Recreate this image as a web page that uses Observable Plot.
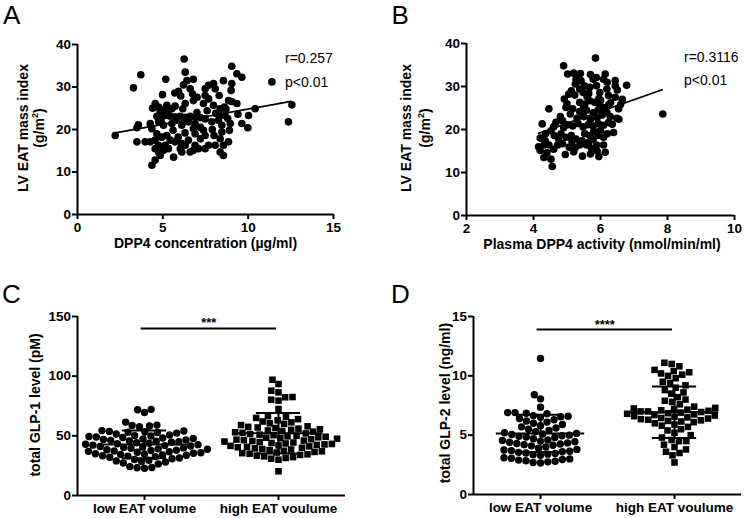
<!DOCTYPE html>
<html>
<head>
<meta charset="utf-8">
<script src="https://cdn.jsdelivr.net/npm/d3@7"></script>
<script src="https://cdn.jsdelivr.net/npm/@observablehq/plot@0.6"></script>
<style>
  body { margin: 0; background: #fff; }
  #fig { position: relative; width: 744px; height: 518px; overflow: hidden; background: #fff;
         font-family: "Liberation Sans", Arial, sans-serif; color: #000; }
  .lbl { position: absolute; white-space: nowrap; font-weight: bold; font-size: 14px; text-align: center; }
  .ann { position: absolute; white-space: nowrap; font-size: 14px; line-height: 14px; transform: translateY(-50%); }
  .letter { position: absolute; font-family: "Liberation Sans", Arial, sans-serif; font-size: 26px; line-height: 26px; }
  #fig svg g[aria-label$="axis tick"] { stroke-width: 2px; }
  #fig svg text { font-weight: bold; font-family: "Liberation Sans", Arial, sans-serif; }
  #fig svg g[aria-label$="axis tick label"] text { font-size: 13.5px; }
</style>
</head>
<body>
<div id="fig"></div>
<script>
// ---------------- data ----------------
const yTicksAB = [0, 10, 20, 30, 40];

// Panel A: DPP4 concentration (µg/ml) vs LV EAT mass index (g/m²)
const aX = [6.25,9.04,3.71,3.28,5.17,6.31,9.34,9.63,8.55,11.39,4.98,5.92,6.21,6.41,6.79,7.48,7.68,7.97,8.07,7.48,
  7.68,9.04,9.0,6.74,7.01,6.05,6.79,7.38,6.31,6.17,4.55,4.75,4.84,5.23,5.53,5.72,7.97,8.36,8.61,8.85,
  9.04,9.34,10.41,12.56,10.02,12.36,9.63,9.98,2.21,3.57,3.48,4.26,4.36,4.65,4.94,5.14,5.43,5.72,6.02,6.31,
  6.6,6.89,7.19,7.48,4.75,5.04,5.53,6.11,6.5,6.89,7.87,8.26,8.46,8.65,8.36,8.95,7.38,7.48,6.79,6.89,
  8.46,8.36,3.96,4.26,4.55,4.65,4.94,5.23,5.43,5.72,5.14,5.33,4.75,4.55,6.11,6.31,6.02,6.5,6.89,7.09,
  6.6,6.79,7.48,7.68,8.07,8.36,8.55,8.55,8.85,4.75,5.04,4.84,4.55,4.36,5.63,6.11,5.0,5.3,4.9,5.8,
  6.4,7.0,7.6,8.1,8.8,8.7,9.4,7.2,7.9,5.6,5.9,6.3,4.4,6.6,5.7,8.3,8.9,7.2,8.0,3.48];
const aY = [36.6,34.9,32.9,29.8,31.8,33.5,33.1,32.3,31.5,31.2,28.2,29.0,30.5,31.5,31.8,29.6,30.4,30.8,29.6,28.0,
  27.2,30.8,29.2,28.4,27.6,27.9,26.8,26.1,26.1,24.9,26.1,25.3,24.1,25.7,24.9,25.5,25.7,24.9,25.3,26.8,
  26.6,26.1,24.9,25.8,23.3,21.8,21.4,20.4,18.6,21.1,20.4,21.4,20.2,23.1,23.1,23.3,23.1,23.0,23.1,22.9,
  23.1,22.9,22.8,22.5,21.8,21.0,21.4,21.0,21.8,21.4,21.8,22.2,21.0,23.3,23.3,21.4,19.8,18.6,20.2,19.0,
  19.4,17.8,17.1,17.1,17.5,19.0,18.2,18.6,17.5,17.1,16.3,15.5,16.3,15.5,16.7,16.3,15.5,17.5,16.3,15.5,
  14.7,15.1,15.5,16.3,16.3,14.7,13.9,16.3,17.1,14.7,15.1,13.9,12.8,11.6,13.5,14.7,24.6,24.0,22.3,22.2,
  22.0,24.0,24.4,23.8,22.6,24.8,23.6,20.5,20.0,19.8,18.2,19.2,25.0,29.6,28.6,28.0,19.8,17.8,18.6,17.1];
const aFitX = [2.21, 12.5];
const aFitY = [19.2, 26.6];

// Panel B: Plasma DPP4 activity (nmol/min/ml) vs LV EAT mass index (g/m²)
const bX = [5.85,4.9,5.02,5.2,6.14,6.09,6.44,6.44,6.78,5.27,5.42,5.53,5.78,5.88,5.25,5.38,5.13,5.23,5.48,5.68,
  5.88,5.98,6.19,6.24,6.44,4.92,4.97,5.17,4.46,5.38,5.53,5.68,5.83,5.98,5.38,5.58,5.78,5.93,6.09,6.19,
  6.29,6.49,6.54,7.86,4.26,4.67,4.87,5.02,5.17,5.33,5.48,5.63,5.78,5.93,6.09,6.24,6.39,4.36,4.52,4.62,
  4.82,4.97,5.13,5.27,5.53,5.68,5.78,5.93,6.09,4.2,4.31,4.46,4.72,4.87,5.07,5.38,5.58,5.73,5.88,6.09,
  6.14,4.2,4.31,4.52,4.56,5.46,5.7,5.2,5.9,6.0,5.6,5.0,5.3,5.5,5.7,5.9,6.05,6.3,6.6,6.35,
  5.1,4.8,4.6,4.9,5.8,6.0,6.2,5.45,5.65,4.75,4.95,5.25,5.95,6.55,6.65,6.5,5.7,5.4,6.2,5.05,
  5.65,5.95,6.25,5.5,4.4,4.15,4.35,4.6,5.15];
const bY = [36.6,34.8,32.9,33.1,32.9,31.7,31.4,30.2,30.3,31.7,31.3,30.1,31.7,32.1,30.6,29.4,29.0,28.0,28.6,29.8,
  30.2,28.6,29.4,27.9,27.5,27.1,25.1,24.8,24.8,26.3,25.9,26.7,26.3,25.6,24.2,24.5,23.9,24.6,25.1,24.0,
  23.0,22.6,24.8,23.6,21.3,21.7,22.0,21.1,20.8,21.4,20.6,21.1,20.8,21.4,21.0,21.6,19.3,19.0,19.7,18.6,
  19.0,18.2,18.6,17.8,19.0,18.6,17.8,18.6,18.2,18.0,16.4,16.4,16.4,16.7,15.9,16.4,16.4,15.5,16.4,16.4,
  14.7,15.1,13.5,13.1,11.4,13.8,14.3,14.8,15.0,26.8,27.6,26.0,22.6,23.0,22.4,22.8,23.4,26.2,25.8,21.2,
  23.6,23.0,20.6,20.4,19.6,19.8,19.0,17.4,17.0,17.8,14.2,15.8,13.7,22.4,27.0,29.2,32.8,33.0,31.0,28.2,
  28.4,27.2,25.8,25.2,14.6,16.0,17.4,15.4,17.2];
const bFitX = [4.15, 7.84];
const bFitY = [19.1, 29.25];

// Panels C and D: groups
const groups = ["low EAT volume", "high EAT voulume"];

// Panel C: total GLP-1 level (pM)
const cLow = [22.8,23.2,23.5,24.2,
  26.5,27.2,28.0,28.5,29.0,29.6,30.2,30.8,31.4,32.0,
  32.6,33.0,33.3,33.7,34.0,34.3,34.7,35.0,35.4,35.8,36.2,36.6,
  37.0,37.3,37.7,38.0,38.4,38.7,39.1,39.5,39.9,40.3,40.7,41.1,
  41.5,41.8,42.2,42.6,43.0,43.4,43.8,44.2,44.6,45.0,45.4,45.8,
  46.2,46.6,47.0,47.4,47.8,48.2,48.6,49.0,49.4,49.8,50.2,50.7,
  51.5,52.3,52.8,53.1,53.4,53.7,54.0,54.4,
  57.6,58.2,58.6,59.0,
  61.5,69.5,71.8,72.2];
const cHigh = [20.3,
  30.0,30.8,31.5,32.2,32.8,33.4,34.0,34.5,35.0,35.5,36.0,36.5,
  37.0,37.5,38.0,38.5,39.0,39.5,40.0,40.4,40.8,41.2,41.6,42.0,
  42.4,42.8,43.2,43.6,44.0,44.4,44.8,45.2,45.6,46.0,46.4,46.8,
  47.2,47.6,48.0,48.4,48.8,49.2,49.6,50.0,50.5,51.0,51.5,52.0,
  52.5,53.0,53.5,54.0,54.5,55.0,55.5,56.0,56.5,57.0,57.5,58.0,
  59.0,60.0,60.5,61.3,62.0,63.0,64.0,65.0,66.0,66.5,
  72.5,79.5,80.3,82.3,82.5,86.4,87.8,93.4,97.0];
const cMean = [42.8, 52.2];
const cSD = [11.6, 17.0];
const cSig = {y: 140, stars: "***"};

// Panel D: total GLP-2 level (ng/ml)
const dLow = [2.65,2.7,2.75,2.8,2.85,2.9,2.95,3.0,3.05,3.1,
  3.3,3.35,3.4,3.45,3.5,3.55,3.6,3.65,3.7,3.75,3.8,3.9,
  4.0,4.1,4.15,4.2,4.25,4.3,4.35,4.4,4.45,4.5,4.55,4.6,
  4.7,4.8,4.85,4.9,4.95,5.0,5.05,5.1,5.15,5.2,5.3,5.4,
  5.5,5.6,5.7,5.8,5.9,6.0,6.1,6.2,6.3,6.4,6.5,6.55,6.6,6.65,
  6.8,6.85,6.9,6.9,7.36,8.06,8.4,11.47];
const dHigh = [2.7,3.3,3.5,3.6,3.8,4.0,4.2,4.5,4.5,4.6,4.8,5.0,5.2,5.4,5.5,5.7,5.8,5.9,6.0,6.1,
  6.15,6.2,6.25,6.3,6.35,6.4,6.45,6.5,6.55,6.6,6.65,6.7,6.75,6.8,6.85,6.9,6.95,7.0,7.0,7.05,
  7.1,7.15,7.2,7.25,7.3,7.4,7.6,7.8,7.9,8.0,8.2,8.5,8.6,8.8,9.0,9.2,9.4,9.5,9.8,10.0,
  10.1,10.2,10.3,10.4,10.5,10.8,11.0,11.1];
const dMean = [5.15, 6.93];
const dSD = [1.57, 2.17];
const dSig = {y: 13.9, stars: "****"};

// ---------------- layout helpers ----------------
const W = 372, H = 259;
const fig = document.getElementById("fig");
const baseStyle = {fontFamily: "Liberation Sans, Arial, sans-serif", fontSize: "13px",
  fontWeight: "bold", color: "#000", background: "transparent", overflow: "visible"};

function place(node, left, top) {
  node.style.position = "absolute";
  node.style.left = left + "px";
  node.style.top = top + "px";
  fig.appendChild(node);
}
function textDiv(cls, html, left, top, extra = {}) {
  const d = document.createElement("div");
  d.className = cls;
  d.innerHTML = html;
  d.style.left = left + "px";
  d.style.top = top + "px";
  Object.assign(d.style, extra);
  fig.appendChild(d);
  return d;
}
function centered(html, cx, cy, rotate, lineHeight = 14) {
  textDiv("lbl", html, cx, cy, {
    lineHeight: lineHeight + "px",
    transform: "translate(-50%,-50%)" + (rotate ? " rotate(-90deg)" : "")
  });
}

function scatter({xs, ys, fitX, fitY, xDomain, xTicks, ml, mr, mt, mb}) {
  const pts = xs.map((x, i) => ({x, y: ys[i]}));
  const fit = fitX.map((x, i) => ({x, y: fitY[i]}));
  return Plot.plot({
    width: W, height: H, marginLeft: ml, marginRight: mr, marginTop: mt, marginBottom: mb,
    style: baseStyle,
    x: {domain: xDomain, ticks: xTicks, tickSize: 5, tickPadding: 3, label: null},
    y: {domain: [0, 40], ticks: yTicksAB, tickSize: 5, tickPadding: 1.5, label: null},
    marks: [
      Plot.ruleX([xDomain[0]], {strokeWidth: 2}),
      Plot.ruleY([0], {strokeWidth: 2}),
      Plot.dot(pts, {x: "x", y: "y", r: 3.8, fill: "#000"}),
      Plot.line(fit, {x: "x", y: "y", strokeWidth: 1.8, stroke: "#000"})
    ]
  });
}

function dotPlot({low, high, means, sds, sig, yDomain, yTicks, ml, mr, mt, mb}) {
  const rows = d3.sort([
    ...low.map(v => ({g: groups[0], v})),
    ...high.map(v => ({g: groups[1], v}))
  ], d => d.v);
  const stats = groups.map((g, i) => ({g, mean: means[i], sd: sds[i]}));
  const first = [{g: groups[0], ...sig}];
  return Plot.plot({
    width: W, height: H, marginLeft: ml, marginRight: mr, marginTop: mt, marginBottom: mb,
    style: baseStyle,
    fx: {domain: groups, padding: 0, axis: "bottom", tickSize: 5, tickPadding: 3, label: null},
    x: {domain: [-1, 1], axis: null},
    y: {domain: yDomain, ticks: yTicks, tickSize: 5, tickPadding: 1.5, label: null},
    symbol: {domain: groups, range: ["circle", "square"]},
    marks: [
      Plot.ruleY([0], {strokeWidth: 2}),
      Plot.ruleX(first, {fx: "g", x: -1, strokeWidth: 2}),
      Plot.dot(rows, Plot.dodgeX({anchor: "middle", padding: 0},
        {fx: "g", y: "v", r: 3.7, symbol: "g", fill: "#000"})),
      Plot.ruleY(stats, {fx: "g", y: "mean", x1: -0.66, x2: 0.66, strokeWidth: 2}),
      Plot.ruleY(stats, {fx: "g", y: d => d.mean + d.sd, x1: -0.33, x2: 0.33, strokeWidth: 2}),
      Plot.ruleY(stats, {fx: "g", y: d => d.mean - d.sd, x1: -0.33, x2: 0.33, strokeWidth: 2}),
      Plot.ruleX(stats, {fx: "g", x: 0, y1: d => d.mean - d.sd, y2: d => d.mean + d.sd, strokeWidth: 2}),
      Plot.ruleY(first, {fx: "g", y: "y", x1: -0.05, x2: 1.97, strokeWidth: 2}),
      Plot.text(first, {fx: "g", x: 0.96, y: "y", text: "stars", lineAnchor: "bottom", dy: -1,
        fontSize: 13, fontWeight: "bold"})
    ]
  });
}

// ---------------- panels ----------------
place(scatter({xs: aX, ys: aY, fitX: aFitX, fitY: aFitY, xDomain: [0, 15], xTicks: [0, 5, 10, 15],
  ml: 77, mr: 39, mt: 44, mb: 45}), 0, 0);
place(scatter({xs: bX, ys: bY, fitX: bFitX, fitY: bFitY, xDomain: [2, 10], xTicks: [2, 4, 6, 8, 10],
  ml: 94, mr: 10, mt: 43, mb: 44}), 372, 0);
place(dotPlot({low: cLow, high: cHigh, means: cMean, sds: cSD, sig: cSig,
  yDomain: [0, 150], yTicks: [0, 50, 100, 150], ml: 76, mr: 27, mt: 57, mb: 23}), 0, 259);
place(dotPlot({low: dLow, high: dHigh, means: dMean, sds: dSD, sig: dSig,
  yDomain: [0, 15], yTicks: [0, 5, 10, 15], ml: 101, mr: 3, mt: 57, mb: 24}), 372, 259);

// axis titles
centered("LV EAT mass index<br>(g/m<sup style=\"font-size:9px;line-height:0\">2</sup>)", 30.5, 128, true, 16);
centered("LV EAT mass index<br>(g/m<sup style=\"font-size:9px;line-height:0\">2</sup>)", 416, 128, true, 19);
centered("DPP4 concentration (µg/ml)", 205.5, 242.5, false);
centered("Plasma DPP4 activity (nmol/min/ml)", 602, 244, false);
centered("total GLP-1 level (pM)", 35, 405, true);
centered("total GLP-2 level (ng/ml)", 444.5, 403, true);

// correlation annotations
textDiv("ann", "r=0.257", 285, 58);
textDiv("ann", "p&lt;0.01", 285, 81.5);
textDiv("ann", "r=0.3116", 684, 57);
textDiv("ann", "p&lt;0.01", 684, 80);

// panel letters
textDiv("letter", "A", 3, 1.6);
textDiv("letter", "B", 391.5, 1.6);
textDiv("letter", "C", 2, 281);
textDiv("letter", "D", 391, 281);
</script>
</body>
</html>
